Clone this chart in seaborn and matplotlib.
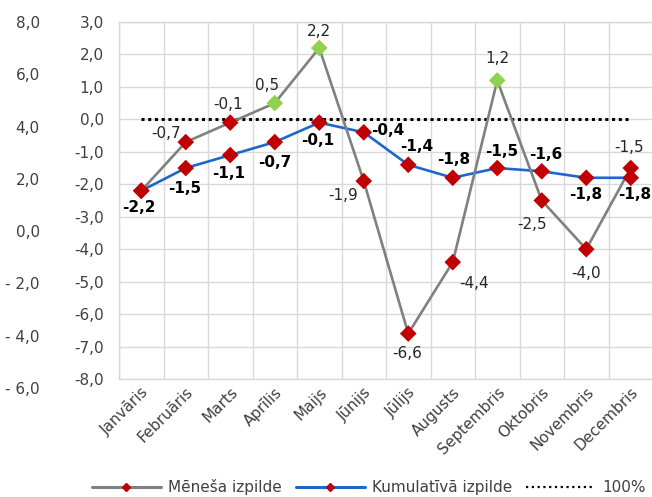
import numpy as np
import pandas as pd
import matplotlib
matplotlib.use("Agg")
import matplotlib.pyplot as plt
from matplotlib.lines import Line2D
from matplotlib.ticker import FixedLocator, FuncFormatter
import seaborn as sns

# === data ===
months = ["Janvāris", "Februāris", "Marts", "Aprīlis", "Maijs", "Jūnijs",
          "Jūlijs", "Augusts", "Septembris", "Oktobris", "Novembris", "Decembris"]
monthly = [-2.2, -0.7, -0.1, 0.5, 2.2, -1.9, -6.6, -4.4, 1.2, -2.5, -4.0, -1.5]
cumulative = [-2.2, -1.5, -1.1, -0.7, -0.1, -0.4, -1.4, -1.8, -1.5, -1.6, -1.8, -1.8]
ref_100 = [0.0] * 12
inner_ticks = [-8, -7, -6, -5, -4, -3, -2, -1, 0, 1, 2, 3]
outer_ticks = [-6, -4, -2, 0, 2, 4, 6, 8]

# label offsets in pixels (dx, dy); None = no label
monthly_off = [None, (-20, 9), (-2, 18), (-8, 18), (0, 16), (-21, -14),
               (-1, -20), (21, -21), (0, 22), (-10, -24), (0, -24), (-2, 21)]
cumul_off = [(-2, -17), (-1, -20), (-2, -18), (0, -20), (-2, -18), (24, 2),
             (8, 18), (1, 18), (4, 17), (4, 17), (-1, -17), (4, -17)]

GRAY = "#808080"
BLUE = "#1F66CC"
RED = "#C00000"
GREEN = "#92D050"
GRID = "#D9D9D9"
TXT = "#404040"
FS = 11

df = pd.DataFrame({"month": months, "monthly": monthly,
                   "cumulative": cumulative, "ref": ref_100})
df["sign"] = np.where(df["monthly"] > 0, "pos", "neg")

sns.set_style("white")
plt.rcParams["font.family"] = ["DejaVu Sans"]
plt.rcParams["font.size"] = FS

fig = plt.figure(figsize=(6.52, 4.97), dpi=100)
W, H = 652, 497
ax = fig.add_axes([119 / W, 1 - 379 / H, 534 / W, (379 - 22) / H])

# === plot ===
sns.lineplot(data=df, x="month", y="ref", sort=False, ax=ax, color="black",
             linewidth=2.2, linestyle=(0, (1, 1.2)), zorder=2)
sns.lineplot(data=df, x="month", y="cumulative", sort=False, ax=ax,
             color=BLUE, linewidth=1.9, zorder=3)
sns.lineplot(data=df, x="month", y="monthly", sort=False, ax=ax,
             color=GRAY, linewidth=1.9, zorder=3)
sns.scatterplot(data=df, x="month", y="cumulative", ax=ax, color=RED,
                marker="D", s=72, edgecolor="none", zorder=4, legend=False)
sns.scatterplot(data=df, x="month", y="monthly", hue="sign", ax=ax,
                palette={"neg": RED, "pos": GREEN}, marker="D", s=72,
                edgecolor="none", zorder=4, legend=False)

fmt = lambda v: f"{v:.1f}".replace(".", ",")
for i, (m, c) in enumerate(zip(monthly, cumulative)):
    if monthly_off[i] is not None:
        ax.annotate(fmt(m), (i, m), xytext=monthly_off[i], textcoords="offset pixels",
                    ha="center", va="center", fontsize=FS, color="#262626", zorder=5)
    ax.annotate(fmt(c), (i, c), xytext=cumul_off[i], textcoords="offset pixels",
                ha="center", va="center", fontsize=FS, fontweight="bold",
                color="black", zorder=5)

ax.set_xlim(-0.5, len(months) - 0.5)
ax.set_ylim(-8, 3)
ax.set_yticks(inner_ticks)
ax.yaxis.set_major_formatter(FuncFormatter(lambda v, p: fmt(v)))
ax.xaxis.set_minor_locator(FixedLocator(np.arange(-0.5, len(months))))
ax.grid(True, which="major", axis="y", color=GRID, linewidth=1)
ax.grid(True, which="minor", axis="x", color=GRID, linewidth=1)
ax.set_axisbelow(True)
for s in ax.spines.values():
    s.set_color(GRID)
    s.set_linewidth(1)
ax.tick_params(axis="y", length=0, pad=11, labelsize=FS, labelcolor=TXT)
ax.tick_params(axis="x", which="both", length=0, pad=4, labelsize=FS, labelcolor=TXT)
plt.setp(ax.get_xticklabels(), rotation=45, ha="right", rotation_mode="anchor")
ax.set_xlabel("")
ax.set_ylabel("")

# outer axis
ax2 = fig.add_axes([119 / W, 1 - 388 / H, 534 / W, (388 - 22) / H])
ax2.patch.set_visible(False)
ax2.set_ylim(-6, 8)
ax2.set_yticks(outer_ticks)
ax2.yaxis.set_major_formatter(FuncFormatter(
    lambda v, p: ("- " + fmt(-v)) if v < 0 else fmt(v)))
ax2.set_xticks([])
for s in ax2.spines.values():
    s.set_visible(False)
ax2.tick_params(axis="y", length=0, pad=57, labelsize=FS, labelcolor=TXT)

# legend
handles = [
    Line2D([], [], color=GRAY, linewidth=2.2, marker="D", markersize=4,
           markerfacecolor=RED, markeredgecolor=RED),
    Line2D([], [], color=BLUE, linewidth=2.2, marker="D", markersize=4,
           markerfacecolor=RED, markeredgecolor=RED),
    Line2D([], [], color="black", linewidth=1.6, linestyle=(0, (1, 1.6))),
]
fig.legend(handles, ["Mēneša izpilde", "Kumulatīvā izpilde", "100%"],
           loc="center", bbox_to_anchor=(0.566, 1 - 487 / H), ncol=3,
           frameon=False, fontsize=FS, handlelength=4.5, handletextpad=0.5,
           columnspacing=0.9, labelcolor=TXT)

fig.savefig("out.png", dpi=100)
